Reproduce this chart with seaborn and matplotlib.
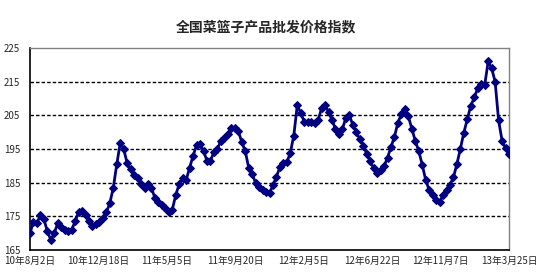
import numpy as np
import pandas as pd
import matplotlib
matplotlib.use("Agg")
import matplotlib.pyplot as plt
import matplotlib.dates as mdates
import seaborn as sns

title = "全国菜篮子产品批发价格指数"
start_date = "2010-08-02"
step_days = 7
values = [
    170.0, 173.4, 173.0, 175.4, 174.2, 170.5, 168.0, 170.0, 173.0, 171.7,
    171.0, 170.5, 171.0, 173.5, 176.3, 176.7, 175.5, 173.5, 172.0, 172.6,
    173.3, 174.5, 176.2, 178.9, 183.5, 190.5, 196.8, 195.0, 190.7, 189.0,
    187.4, 186.5, 184.5, 183.5, 184.6, 183.4, 180.4, 179.4, 178.4, 177.6,
    176.3, 177.0, 181.4, 184.6, 186.5, 185.8, 189.5, 193.0, 196.2, 196.5,
    194.3, 191.5, 191.5, 194.2, 195.0, 197.5, 198.4, 199.6, 201.1, 201.3,
    200.4, 197.1, 194.4, 189.5, 187.5, 185.0, 183.7, 182.7, 182.3, 182.0,
    184.2, 186.8, 189.6, 190.7, 191.0, 193.9, 199.0, 208.0, 205.7, 203.1,
    203.1, 202.9, 202.6, 203.5, 207.1, 208.1, 206.0, 203.6, 201.0, 199.5,
    200.9, 204.3, 205.0, 202.2, 200.0, 198.0, 195.9, 193.6, 191.4, 189.3,
    187.9, 188.9, 189.9, 192.4, 195.5, 198.7, 202.8, 205.4, 206.9, 204.7,
    201.0, 197.4, 194.4, 190.3, 185.8, 182.8, 181.2, 179.9, 179.3, 181.3,
    182.9, 184.4, 186.6, 190.6, 195.1, 199.9, 203.9, 207.9, 210.3, 213.1,
    214.3, 214.0, 221.0, 219.0, 215.0, 203.5, 197.5, 195.2, 193.6,
]
tick_dates = ["2010-08-02", "2010-12-18", "2011-05-05", "2011-09-20",
              "2012-02-05", "2012-06-22", "2012-11-07", "2013-03-25"]
tick_labels = ["10年8月2日", "10年12月18日", "11年5月5日", "11年9月20日",
               "12年2月5日", "12年6月22日", "12年11月7日", "13年3月25日"]
y_ticks = [165, 175, 185, 195, 205, 215, 225]

dates = pd.date_range(start_date, periods=len(values), freq=f"{step_days}D")
df = pd.DataFrame({"date": dates, "value": values})

sns.set_style("white")
plt.rcParams["font.family"] = ["Noto Sans CJK SC", "DejaVu Sans"]

fig = plt.figure(figsize=(5.54, 2.72), dpi=100)
ax = fig.add_axes([30 / 554, 22 / 272, 479 / 554, 202 / 272])

navy = "#000080"
sns.lineplot(data=df, x="date", y="value", ax=ax, color=navy, linewidth=2.0,
             marker="D", markersize=4, markeredgecolor=navy, markerfacecolor=navy,
             zorder=3)

td = pd.to_datetime(tick_dates)
ax.set_xlim(td[0], td[-1])
ax.set_ylim(y_ticks[0], y_ticks[-1])
ax.set_xticks(td)
ax.set_xticklabels(tick_labels, fontsize=7)
ax.set_yticks(y_ticks)
ax.set_yticklabels([str(v) for v in y_ticks], fontsize=7)
ax.set_xlabel("")
ax.set_ylabel("")

for v in y_ticks[1:-1]:
    ax.axhline(v, color="black", linewidth=1.0, linestyle=(0, (2.5, 1.5)), zorder=1)

ax.tick_params(axis="x", direction="in", length=4, width=1, color="black", pad=4)
ax.tick_params(axis="y", length=0, pad=7)
for s in ["left", "bottom"]:
    ax.spines[s].set_color("black")
    ax.spines[s].set_linewidth(1.2)
for s in ["top", "right"]:
    ax.spines[s].set_color("#808080")
    ax.spines[s].set_linewidth(1.0)
    ax.spines[s].set_visible(True)

fig.text(266 / 554, 1 - 27 / 272, title, ha="center", va="center",
         fontsize=10, fontweight="bold")

fig.savefig("out.png", dpi=100)
